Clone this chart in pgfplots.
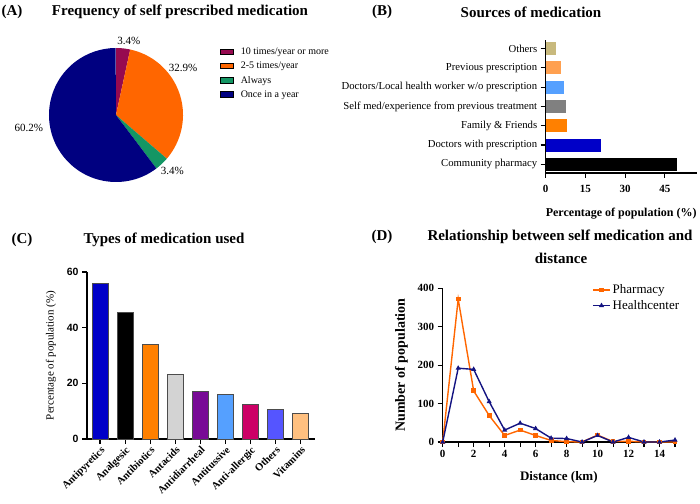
\documentclass[border=0pt]{standalone}
\usepackage{fontspec}
\setmainfont{Liberation Serif}
\newfontfamily\arialfont{Liberation Sans}
\usepackage{pgfplots}
\pgfplotsset{compat=1.18}

% colours
\definecolor{pieA}{RGB}{150,10,80}
\definecolor{pieB}{RGB}{255,102,0}
\definecolor{pieC}{RGB}{20,150,100}
\definecolor{pieD}{RGB}{0,0,128}
\definecolor{srcOthers}{RGB}{200,185,125}
\definecolor{srcPrev}{RGB}{255,160,80}
\definecolor{srcLocal}{RGB}{85,160,255}
\definecolor{srcSelf}{RGB}{128,128,128}
\definecolor{srcFam}{RGB}{255,128,0}
\definecolor{srcDoc}{RGB}{0,0,200}
\definecolor{medA}{RGB}{0,0,200}
\definecolor{medC}{RGB}{255,128,0}
\definecolor{medD}{RGB}{211,211,211}
\definecolor{medE}{RGB}{120,10,150}
\definecolor{medF}{RGB}{85,160,255}
\definecolor{medG}{RGB}{204,0,102}
\definecolor{medH}{RGB}{85,85,255}
\definecolor{medI}{RGB}{255,192,128}
\definecolor{pharm}{RGB}{255,102,0}
\definecolor{hcent}{RGB}{20,20,130}

\pgfplotsset{
  panel/.style={
    scale only axis,
    axis lines*=left,
    axis line style={line width=1.1pt},
    tick align=outside,
    major tick length=5pt,
    minor tick length=5pt,
    every tick/.style={line width=1.1pt, black},
    /pgf/number format/assume math mode=true,
    tick label style={font=\bfseries\fontsize{11}{13}\selectfont},
  },
}

\newcommand\titlefont{\bfseries\fontsize{15}{18}\selectfont}

% pie values (%)
\def\pA{3.4}
\def\pB{32.9}
\def\pC{3.4}
\def\pD{60.2}

\begin{document}
\begin{tikzpicture}
\path[use as bounding box] (0pt,0pt) rectangle (700pt,503pt);

% titles
\node[font=\titlefont] at (12pt,491pt) {(A)};
\node[font=\titlefont] at (180pt,491pt) {Frequency of self prescribed medication};
\node[font=\titlefont] at (382pt,491pt) {(B)};
\node[font=\titlefont] at (531pt,491pt) {Sources of medication};
\node[font=\titlefont] at (22pt,263pt) {(C)};
\node[font=\titlefont] at (164pt,263pt) {Types of medication used};
\node[font=\titlefont] at (382pt,266pt) {(D)};
\node[font=\titlefont] at (560pt,266pt) {Relationship between self medication and};
\node[font=\titlefont] at (561pt,245pt) {distance};

% (A) pie
\pgfmathsetmacro\aO{90}
\pgfmathsetmacro\aA{90-3.6*\pA}
\pgfmathsetmacro\aB{\aA-3.6*\pB}
\pgfmathsetmacro\aC{\aB-3.6*\pC}
\pgfmathsetmacro\aD{\aC-3.6*\pD}
\begin{axis}[
  at={(116pt,388pt)}, anchor=center,
  scale only axis, width=134pt, height=134pt,
  xmin=-1, xmax=1, ymin=-1, ymax=1,
  hide axis, clip=false,
  legend style={at={(1.255,1.025)}, anchor=north west, draw=none, fill=none,
    font=\fontsize{10}{12}\selectfont, row sep=4pt,
    nodes={inner sep=1pt}},
  legend cell align=left,
  legend image code/.code={\draw[#1] (0pt,-2.5pt) rectangle (13pt,3pt); \path (19pt,0pt);},
]
\addlegendimage{draw=black, fill=pieA}
\addlegendentry{10 times/year or more}
\addlegendimage{draw=black, fill=pieB}
\addlegendentry{2-5 times/year}
\addlegendimage{draw=black, fill=pieC}
\addlegendentry{Always}
\addlegendimage{draw=black, fill=pieD}
\addlegendentry{Once in a year}
\fill[pieA] (axis cs:0,0) -- ++(\aO:67pt) arc[start angle=\aO, end angle=\aA, radius=67pt] -- cycle;
\fill[pieB] (axis cs:0,0) -- ++(\aA:67pt) arc[start angle=\aA, end angle=\aB, radius=67pt] -- cycle;
\fill[pieC] (axis cs:0,0) -- ++(\aB:67pt) arc[start angle=\aB, end angle=\aC, radius=67pt] -- cycle;
\fill[pieD] (axis cs:0,0) -- ++(\aC:67pt) arc[start angle=\aC, end angle=\aD, radius=67pt] -- cycle;
\begin{scope}[font=\fontsize{11}{13}\selectfont]
\node at (axis cs:0.19,1.10) {\pA\%};
\node at (axis cs:1.0,0.70) {\pB\%};
\node at (axis cs:0.84,-0.84) {\pC\%};
\node at (axis cs:-1.30,-0.19) {\pD\%};
\end{scope}
\end{axis}

% (B) sources
\begin{axis}[
  panel,
  at={(545.7pt,330pt)}, anchor=south west,
  width=151pt, height=133pt,
  xmin=0, xmax=57, ymin=-0.45, ymax=6.45,
  xtick={0,15,30,45},
  ytick={0,...,6},
  yticklabels={Community pharmacy, Doctors with prescription, Family \& Friends,
    Self med/experience from previous treatment,
    Doctors/Local health worker w/o prescription, Previous prescription, Others},
  yticklabel style={font=\fontsize{10.7}{12}\selectfont},
  xticklabel style={yshift=-4pt},
  xlabel={Percentage of population (\%)},
  xlabel style={font=\bfseries\fontsize{12}{14}\selectfont, yshift=-8pt},
  every axis plot/.append style={xbar, bar shift=0pt, bar width=13pt, draw=none},
]
\addplot[fill=black] coordinates {(49.4,0)};
\addplot[fill=srcDoc] coordinates {(20.8,1)};
\addplot[fill=srcFam] coordinates {(8.2,2)};
\addplot[fill=srcSelf] coordinates {(7.7,3)};
\addplot[fill=srcLocal] coordinates {(6.9,4)};
\addplot[fill=srcPrev] coordinates {(5.9,5)};
\addplot[fill=srcOthers] coordinates {(3.7,6)};
\end{axis}

% (C) types
\begin{axis}[
  panel,
  at={(87pt,64pt)}, anchor=south west,
  width=228pt, height=167pt,
  xmin=-0.52, xmax=8.57, ymin=0, ymax=60,
  ytick={0,20,40,60},
  xtick={0,...,8},
  xticklabels={Antipyretics, Analgesic, Antibiotics, Antacids, Antidiarrheal,
    Antitussive, Anti-allergic, Others, Vitamins},
  xticklabel style={rotate=45, anchor=north east, inner sep=1pt,
    font=\bfseries\fontsize{10.5}{12}\selectfont},
  yticklabel style={font=\arialfont\bfseries\fontsize{10.5}{12}\selectfont},
  ylabel={Percentage of population (\%)},
  ylabel style={font=\fontsize{11}{13}\selectfont, yshift=4pt},
  every axis plot/.append style={ybar, bar shift=0pt, bar width=16pt, draw=black!70, line width=0.6pt},
]
\addplot[fill=medA] coordinates {(0,56.1)};
\addplot[fill=black] coordinates {(1,45.4)};
\addplot[fill=medC] coordinates {(2,34.2)};
\addplot[fill=medD] coordinates {(3,23.2)};
\addplot[fill=medE] coordinates {(4,17.1)};
\addplot[fill=medF] coordinates {(5,15.9)};
\addplot[fill=medG] coordinates {(6,12.4)};
\addplot[fill=medH] coordinates {(7,10.5)};
\addplot[fill=medI] coordinates {(8,9.4)};
\end{axis}

% (D) distance
\begin{axis}[
  panel,
  at={(442.7pt,61pt)}, anchor=south west,
  width=232.3pt, height=153.7pt,
  xmin=0, xmax=15, ymin=0, ymax=400,
  xtick={0,2,...,14}, minor xtick={1,3,...,15},
  ytick={0,100,...,400},
  xlabel={Distance (km)},
  ylabel={Number of population},
  xlabel style={font=\bfseries\fontsize{13}{15}\selectfont, yshift=-7pt},
  ylabel style={font=\bfseries\fontsize{14}{16}\selectfont, yshift=3pt},
  clip=false,
  legend style={at={(0.63,1.05)}, anchor=north west, draw=none, fill=none,
    font=\fontsize{13}{15}\selectfont, row sep=1pt, nodes={inner sep=2pt}},
  legend cell align=left,
]
\addplot[pharm, line width=1.4pt, mark=square*, mark size=1.7pt] coordinates {
  (0,0) (1,372) (2,133) (3,69) (4,17) (5,31) (6,17) (7,4) (8,1) (9,0)
  (10,18) (11,1) (12,2) (13,0) (14,0) (15,0)};
\addlegendentry{Pharmacy}
\addplot[hcent, line width=1.4pt, mark=triangle*, mark size=1.6pt] coordinates {
  (0,0) (1,192) (2,189) (3,105) (4,31) (5,49) (6,35) (7,10) (8,9) (9,0)
  (10,17) (11,0) (12,12) (13,0) (14,0) (15,5)};
\addlegendentry{Healthcenter}
\end{axis}
\end{tikzpicture}
\end{document}
